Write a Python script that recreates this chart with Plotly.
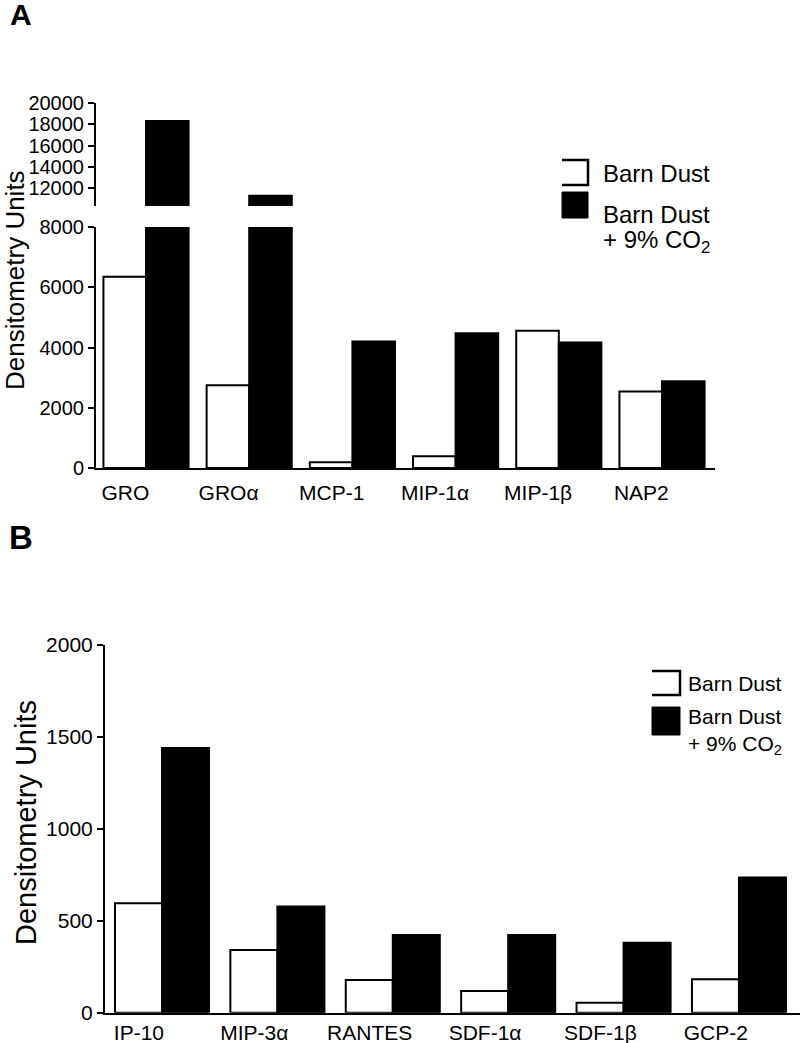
import plotly.graph_objects as go

# ---------------- data ----------------
categories_a = ["GRO", "GROα", "MCP-1", "MIP-1α", "MIP-1β", "NAP2"]
barn_dust_a = [6350, 2750, 190, 390, 4560, 2540]
barn_dust_co2_a = [18300, 11300, 4200, 4470, 4170, 2880]

categories_b = ["IP-10", "MIP-3α", "RANTES", "SDF-1α", "SDF-1β", "GCP-2"]
barn_dust_b = [595, 341, 178, 118, 54, 182]
barn_dust_co2_b = [1440, 578, 423, 423, 381, 735]

ticks_a_low = [0, 2000, 4000, 6000, 8000]
ticks_a_high = [12000, 14000, 16000, 18000, 20000]
ticks_b = [0, 500, 1000, 1500, 2000]

W, H = 800, 1043
FONT = "Liberation Sans, Arial, Helvetica, sans-serif"


def fx(px):
    return px / W


def fy(py):
    return 1 - py / H


idx_a = list(range(len(categories_a)))
idx_b = list(range(len(categories_b)))
lab_a = [i - 0.2 for i in idx_a]
lab_b = [i - 0.2 for i in idx_b]

fig = go.Figure()

white = dict(color="white", line=dict(color="black", width=2))
black = dict(color="black", line=dict(color="black", width=2))

# Panel A lower (x, y) and upper (x2, y2)
for xa, ya in (("x", "y"), ("x2", "y2")):
    fig.add_trace(go.Bar(x=idx_a, y=barn_dust_a, marker=white, xaxis=xa, yaxis=ya,
                         showlegend=False, name="Barn Dust"))
    fig.add_trace(go.Bar(x=idx_a, y=barn_dust_co2_a, marker=black, xaxis=xa, yaxis=ya,
                         showlegend=False, name="Barn Dust + 9% CO2"))

# Panel B (x3, y3)
bw_b = (1 - 0.185) / 2
fig.add_trace(go.Bar(x=idx_b, y=barn_dust_b, marker=white, xaxis="x3", yaxis="y3",
                     showlegend=False, name="Barn Dust", width=bw_b, offset=-bw_b))
fig.add_trace(go.Bar(x=idx_b, y=barn_dust_co2_b, marker=black, xaxis="x3", yaxis="y3",
                     showlegend=False, name="Barn Dust + 9% CO2", width=bw_b, offset=0))

yax_common = dict(showgrid=False, zeroline=False, showline=True, linecolor="black",
                  linewidth=2, ticks="outside", ticklen=6, tickwidth=2, tickcolor="black",
                  automargin=False,
                  tickfont=dict(family=FONT, size=20, color="black"))
xrange_a = [-0.4845, 5.5136]
xrange_b = [-0.494, 5.529]

fig.update_layout(
    template="none",
    width=W, height=H,
    margin=dict(l=0, r=0, t=0, b=0, pad=0),
    plot_bgcolor="white", paper_bgcolor="white",
    barmode="group", bargap=0.175,
    font=dict(family=FONT, color="black"),
    xaxis=dict(domain=[fx(96), fx(715)], anchor="y", range=xrange_a, showgrid=False,
               zeroline=False, showline=True, linecolor="black", linewidth=2,
               tickmode="array", tickvals=lab_a, ticktext=categories_a, ticks="",
               ticklabelstandoff=5, automargin=False,
               tickfont=dict(family=FONT, size=21, color="black")),
    yaxis=dict(domain=[fy(468), fy(227)], anchor="x", range=[0, 8000],
               tickmode="array", tickvals=ticks_a_low,
               ticktext=[str(v) for v in ticks_a_low], **yax_common),
    xaxis2=dict(domain=[fx(96), fx(715)], anchor="y2", range=xrange_a, visible=False,
                matches="x", automargin=False),
    yaxis2=dict(domain=[fy(206), fy(102.7)], anchor="x2", range=[10350, 20000],
                tickmode="array", tickvals=ticks_a_high,
                ticktext=[str(v) for v in ticks_a_high], **yax_common),
    xaxis3=dict(domain=[fx(105), 1.0], anchor="y3", range=xrange_b, showgrid=False,
                zeroline=False, showline=True, linecolor="black", linewidth=2,
                tickmode="array", tickvals=lab_b, ticktext=categories_b, ticks="",
                ticklabelstandoff=0, automargin=False,
                tickfont=dict(family=FONT, size=21, color="black")),
    yaxis3=dict(domain=[fy(1012.7), fy(645)], anchor="x3", range=[0, 2000],
                tickmode="array", tickvals=ticks_b,
                ticktext=[str(v) for v in ticks_b],
                **{**yax_common, "tickfont": dict(family=FONT, size=21, color="black")}),
)

ann = []
# Panel letters
ann.append(dict(text="<b>A</b>", x=fx(21), y=fy(15), font=dict(size=30, family=FONT)))
ann.append(dict(text="<b>B</b>", x=fx(21), y=fy(537), font=dict(size=33, family=FONT)))
# Y titles
ann.append(dict(text="Densitometry Units", x=fx(15), y=fy(280), textangle=-90,
                font=dict(size=26, family=FONT)))
ann.append(dict(text="Densitometry Units", x=fx(26), y=fy(823), textangle=-90,
                font=dict(size=29, family=FONT)))
for a in ann:
    a.update(xref="paper", yref="paper", showarrow=False, xanchor="center", yanchor="middle")

# Legend A
leg_a = [
    dict(text="Barn Dust", x=fx(601), y=fy(173)),
    dict(text="Barn Dust", x=fx(601), y=fy(214)),
    dict(text="+ 9% CO<sub>2</sub>", x=fx(601), y=fy(242)),
]
for a in leg_a:
    a.update(xref="paper", yref="paper", showarrow=False, xanchor="left", yanchor="middle",
             font=dict(size=24, family=FONT))
# Legend B
leg_b = [
    dict(text="Barn Dust", x=fx(686), y=fy(683)),
    dict(text="Barn Dust", x=fx(686), y=fy(716)),
    dict(text="+ 9% CO<sub>2</sub>", x=fx(686), y=fy(745)),
]
for a in leg_b:
    a.update(xref="paper", yref="paper", showarrow=False, xanchor="left", yanchor="middle",
             font=dict(size=21, family=FONT))
ann += leg_a + leg_b

shapes = []


def open_box(x0, y0, x1, y1):
    return dict(type="path", xref="paper", yref="paper",
                path=f"M {fx(x0)} {fy(y0)} L {fx(x1)} {fy(y0)} L {fx(x1)} {fy(y1)} L {fx(x0)} {fy(y1)}",
                line=dict(color="black", width=2.5))


def filled_box(x0, y0, x1, y1):
    return dict(type="rect", xref="paper", yref="paper", x0=fx(x0), x1=fx(x1),
                y0=fy(y1), y1=fy(y0), fillcolor="black", line=dict(color="black", width=1))


shapes.append(open_box(562, 160, 588, 185))
shapes.append(filled_box(562, 192, 588, 218))
shapes.append(open_box(652, 671, 680, 695))
shapes.append(filled_box(652, 707, 680, 735))

fig.update_layout(annotations=ann, shapes=shapes)

# remove the default 8px page margin so the 800x1043 figure fills the window
fig.write_html("out.html", config={"displayModeBar": False},
               post_script="document.body.style.margin='0';")
